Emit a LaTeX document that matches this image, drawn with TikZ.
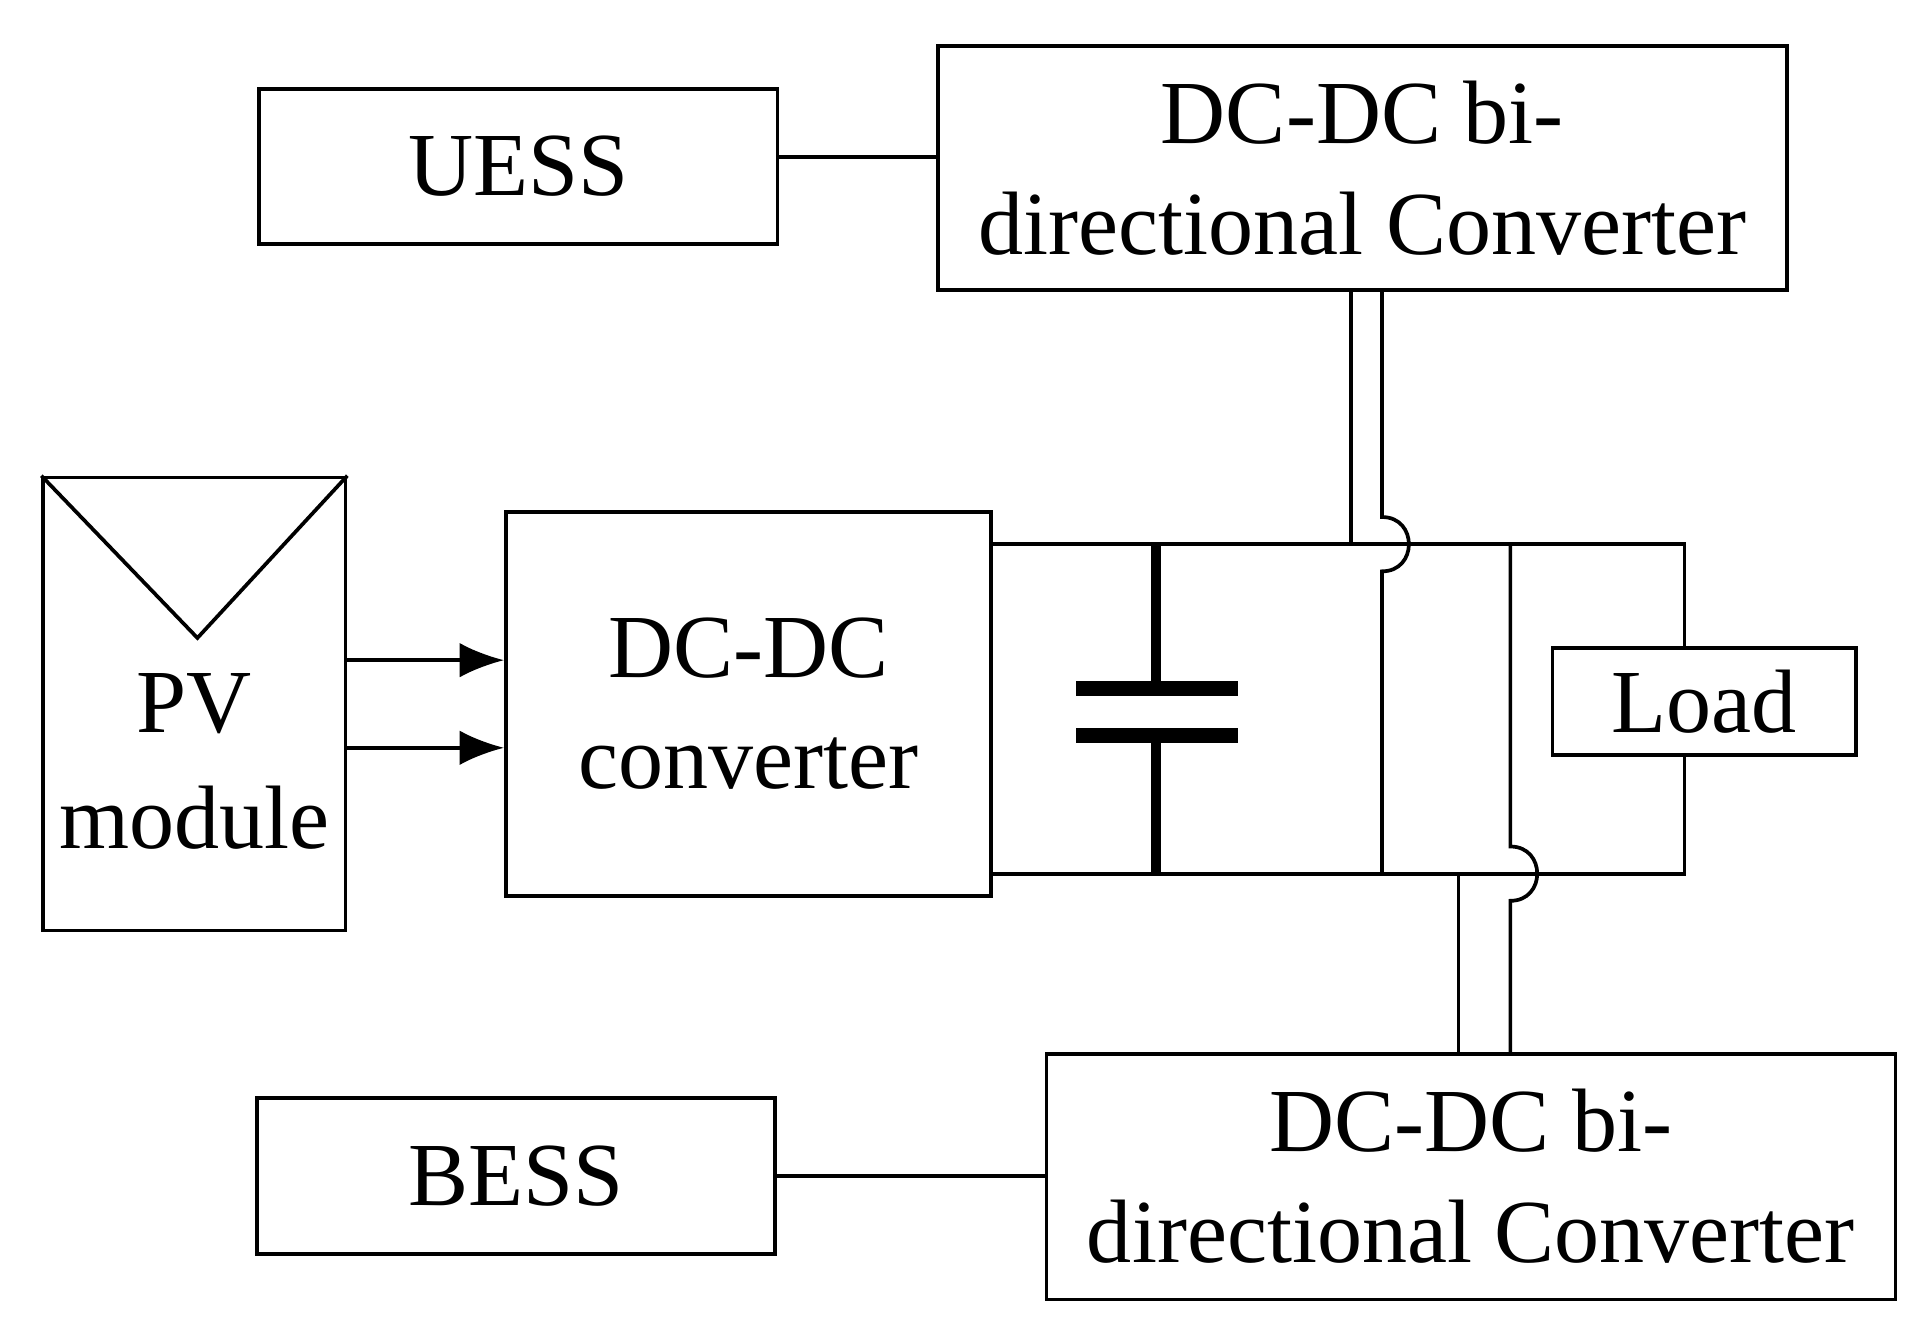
\documentclass[tikz,border=0pt]{standalone}
\usepackage{fontspec}
\setmainfont{Liberation Serif}
\usetikzlibrary{arrows.meta}
\begin{document}
\begin{tikzpicture}[x=0.5pt,y=-0.5pt,line width=1.5pt,
  box/.style={draw,inner sep=0pt,align=center,font=\fontsize{36.5}{45}\selectfont},
  txt/.style={inner sep=0pt,align=center,font=\fontsize{36.5}{47}\selectfont},
  arr/.style={-{Latex[length=18pt,width=14pt]}}]
\useasboundingbox (0,0) rectangle (1560,1076);
\node[box,minimum width=210pt,minimum height=63pt] (uess) at (420,135) {UESS};
\node[box,minimum width=344pt,minimum height=99pt] (tc) at (1104,136) {DC-DC bi-\\directional Converter};
\node[box,minimum width=122.5pt,minimum height=183.5pt] (pv) at (157.5,570.5) {};
\node[txt] (pvt) at (157.5,617) {PV\\module};
\node[box,minimum width=196.5pt,minimum height=155.5pt] (dc) at (606.5,570.5) {DC-DC\\converter};
\node[box,minimum width=123pt,minimum height=43.5pt] (load) at (1381,568.5) {Load};
\node[box,minimum width=344pt,minimum height=99.5pt] (bc) at (1192,953.5) {DC-DC bi-\\directional Converter};
\node[box,minimum width=210pt,minimum height=63pt] (bess) at (418,953) {BESS};
% PV diagonals
\coordinate (pvv) at (160,517);
\draw[line width=1.5pt] (pv.north west) -- (pvv) -- (pv.north east);
% arrows
\draw[arr] (280,535) -- (dc.west |- 0,535);
\draw[arr] (280,606) -- (dc.west |- 0,606);
% links
\draw (uess.east |- 0,127) -- (tc.west |- 0,127);
\draw (bess.east |- 0,953) -- (bc.west |- 0,953);
% buses
\coordinate (tb1) at (803,441); \coordinate (tb2) at (1365,441);
\coordinate (bb1) at (803,708); \coordinate (bb2) at (1365,708);
\draw (tb1) -- (tb2) -- (load.north -| tb2);
\draw (bb1) -- (bb2) -- (load.south -| bb2);
% capacitor
\draw[line width=4pt] (937,441) -- (937,558) (937,596) -- (937,708);
\draw[line width=6pt] (872,558) -- (1003,558) (872,596) -- (1003,596);
% top converter wires
\draw (tc.south -| 1095,0) -- (1095,441);
\draw (tc.south -| 1120,0) -- (1120,419) .. controls (1149,419) and (1149,463) .. (1120,463) -- (1120,708);
% bottom converter wires
\draw (bc.north -| 1182,0) -- (1182,708);
\draw (bc.north -| 1224,0) -- (1224,730) .. controls (1253,730) and (1253,686) .. (1224,686) -- (1224,441);
\end{tikzpicture}
\end{document}
